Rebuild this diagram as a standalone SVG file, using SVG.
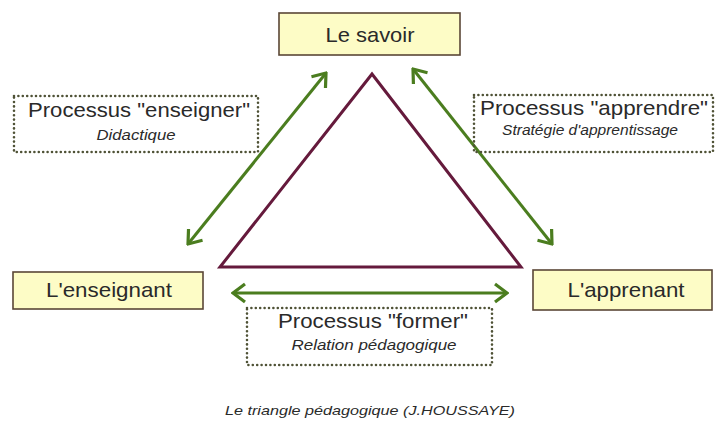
<svg xmlns="http://www.w3.org/2000/svg" width="715" height="423" viewBox="0 0 715 423">
<defs>
<style>
.node{fill:#fdfcc6;stroke:#5a4636;stroke-width:1.6}
.dot{fill:none;stroke:#4f5236;stroke-width:2.6;stroke-dasharray:0 4.4;stroke-linecap:round}
.t{font-family:"Liberation Sans",Arial,sans-serif;font-size:21px;fill:#2a2a2a;text-anchor:middle}
.s{font-family:"Liberation Sans",Arial,sans-serif;font-size:15.5px;font-style:italic;fill:#2a2a2a;text-anchor:middle}
.c{font-family:"Liberation Sans",Arial,sans-serif;font-size:13.5px;font-style:italic;fill:#2a2a2a;text-anchor:middle}
.arr{stroke:#4b7d1f;stroke-width:3;fill:none;marker-start:url(#ah);marker-end:url(#ah)}
</style>
<marker id="ah" markerUnits="userSpaceOnUse" viewBox="-16 -11 18 22" refX="0" refY="0" markerWidth="18" markerHeight="22" orient="auto-start-reverse">
<path d="M-12,-9 L0,0 L-12,9" fill="none" stroke="#4b7d1f" stroke-width="3.2" stroke-linejoin="miter"/>
</marker>
</defs>
<rect width="715" height="423" fill="#ffffff"/>
<g id="triangle">
<polygon points="372,74 220,267 521,267" fill="none" stroke="#651a3c" stroke-width="3" stroke-linejoin="miter"/>
</g>
<g id="connectors">
<line class="arr" x1="188" y1="244" x2="326" y2="73"/>
<line class="arr" x1="413" y1="69" x2="552" y2="244"/>
<line class="arr" x1="233" y1="293" x2="507" y2="293"/>
</g>
<g id="savoir">
<rect class="node" x="279" y="13" width="181" height="42"/>
<text class="t" x="370" y="42" textLength="89" lengthAdjust="spacingAndGlyphs">Le savoir</text>
</g>
<g id="enseignant">
<rect class="node" x="13" y="272" width="190" height="37"/>
<text class="t" x="109" y="297" textLength="126" lengthAdjust="spacingAndGlyphs">L'enseignant</text>
</g>
<g id="apprenant">
<rect class="node" x="533" y="270" width="179" height="40"/>
<text class="t" x="626" y="297" textLength="117" lengthAdjust="spacingAndGlyphs">L'apprenant</text>
</g>
<g id="enseigner">
<rect class="dot" x="14" y="96" width="244" height="56"/>
<text class="t" x="139" y="117" textLength="222" lengthAdjust="spacingAndGlyphs">Processus "enseigner"</text>
<text class="s" x="136" y="140" textLength="79" lengthAdjust="spacingAndGlyphs">Didactique</text>
</g>
<g id="apprendre">
<rect class="dot" x="474" y="95" width="239" height="57"/>
<text class="t" x="594" y="115" textLength="228" lengthAdjust="spacingAndGlyphs">Processus "apprendre"</text>
<text class="s" x="590" y="135" textLength="176" lengthAdjust="spacingAndGlyphs">Stratégie d'apprentissage</text>
</g>
<g id="former">
<rect class="dot" x="247" y="308" width="245" height="57"/>
<text class="t" x="373" y="328" textLength="190" lengthAdjust="spacingAndGlyphs">Processus "former"</text>
<text class="s" x="374" y="350" textLength="165" lengthAdjust="spacingAndGlyphs">Relation pédagogique</text>
</g>
<g id="caption">
<text class="c" x="370" y="415" textLength="290" lengthAdjust="spacingAndGlyphs">Le triangle pédagogique (J.HOUSSAYE)</text>
</g>
</svg>
